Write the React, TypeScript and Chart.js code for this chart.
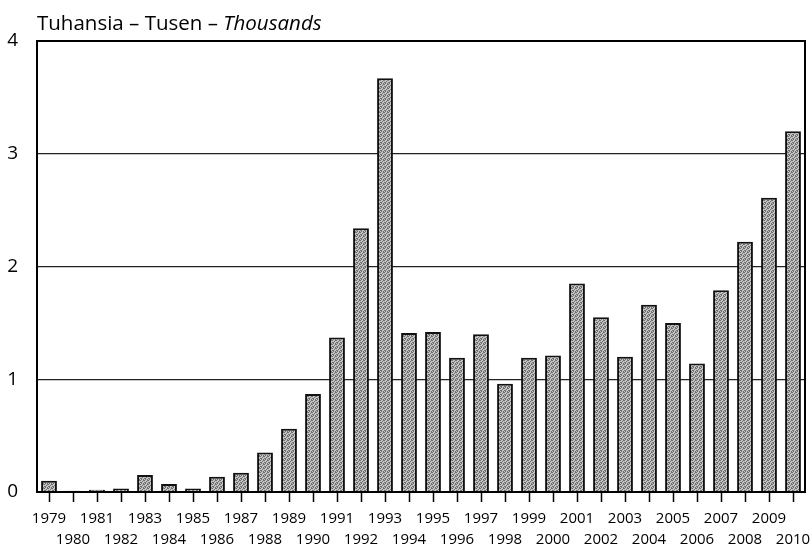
import React, { useEffect, useRef } from "react";
import { Chart, registerables } from "chart.js";

Chart.register(...registerables);

const years: string[] = [
  "1979", "1980", "1981", "1982", "1983", "1984", "1985", "1986", "1987", "1988",
  "1989", "1990", "1991", "1992", "1993", "1994", "1995", "1996", "1997", "1998",
  "1999", "2000", "2001", "2002", "2003", "2004", "2005", "2006", "2007", "2008",
  "2009", "2010",
];

const thousands: number[] = [
  0.1, 0.01, 0.02, 0.03, 0.15, 0.07, 0.03, 0.135, 0.17, 0.35,
  0.56, 0.87, 1.37, 2.34, 3.67, 1.41, 1.42, 1.19, 1.4, 0.96,
  1.19, 1.21, 1.85, 1.55, 1.2, 1.66, 1.5, 1.14, 1.79, 2.22,
  2.61, 3.2,
];

const yTicks: number[] = [0, 1, 2, 3, 4];

const titleNormal = "Tuhansia – Tusen – ";
const titleItalic = "Thousands";

const FONT = "'Open Sans', 'DejaVu Sans', sans-serif";

function makePattern(): CanvasPattern | string {
  const c = document.createElement("canvas");
  c.width = 4;
  c.height = 4;
  const g = c.getContext("2d");
  if (!g) return "#a8a8a8";
  g.fillStyle = "#c4c4c4";
  g.fillRect(0, 0, 4, 4);
  g.fillStyle = "#6e6e6e";
  const dots = [
    [0, 0], [2, 1], [1, 2], [3, 3], [3, 0], [1, 3], [0, 2],
  ];
  dots.forEach(([x, y]) => g.fillRect(x, y, 1, 1));
  const p = g.createPattern(c, "repeat");
  return p || "#a8a8a8";
}

const boxPlugin = {
  id: "boxAndTitle",
  afterDraw(chart: any) {
    const { ctx, chartArea } = chart;
    ctx.save();
    ctx.strokeStyle = "#000";
    ctx.lineWidth = 2;
    ctx.strokeRect(chartArea.left, chartArea.top, chartArea.right - chartArea.left, chartArea.bottom - chartArea.top);
    ctx.fillStyle = "#000";
    ctx.textBaseline = "alphabetic";
    ctx.textAlign = "left";
    ctx.font = `20.5px ${FONT}`;
    const x0 = 37;
    const yb = 30;
    ctx.fillText(titleNormal, x0, yb);
    const w = ctx.measureText(titleNormal).width;
    ctx.font = `italic 20.5px ${FONT}`;
    ctx.fillText(titleItalic, x0 + w, yb);
    ctx.restore();
  },
};

export default function App() {
  const ref = useRef<HTMLCanvasElement | null>(null);

  useEffect(() => {
    if (!ref.current) return;
    const pattern = makePattern();
    const chart = new Chart(ref.current, {
      type: "bar",
      data: {
        labels: years,
        datasets: [
          {
            data: thousands,
            backgroundColor: pattern as any,
            borderColor: "#111",
            borderWidth: 2,
            barPercentage: 0.66,
            categoryPercentage: 1,
          },
        ],
      },
      options: {
        animation: false,
        responsive: false,
        maintainAspectRatio: false,
        layout: { padding: { top: 41, right: 7, left: 0, bottom: 0 } },
        plugins: {
          legend: { display: false },
          tooltip: { enabled: false },
          title: { display: false },
        },
        scales: {
          x: {
            grid: {
              offset: false,
              drawOnChartArea: false,
              drawTicks: true,
              tickLength: 10,
              tickColor: "#000",
              tickWidth: 1.5,
            },
            border: { display: false },
            ticks: {
              color: "#000",
              autoSkip: false,
              maxRotation: 0,
              minRotation: 0,
              padding: 7,
              font: { family: FONT, size: 15, lineHeight: 1.35 },
              callback: (_v: any, i: number) =>
                i % 2 === 0 ? [years[i], ""] : ["", years[i]],
            },
            afterFit: (s: any) => {
              s.height = 53;
              s.paddingLeft = 0;
              s.paddingRight = 0;
            },
          },
          y: {
            min: 0,
            max: 4,
            afterBuildTicks: (s: any) => {
              s.ticks = yTicks.map((v) => ({ value: v }));
            },
            grid: {
              color: "#222",
              lineWidth: 1.2,
              drawTicks: false,
            },
            border: { display: false },
            ticks: {
              color: "#000",
              padding: 19,
              font: { family: FONT, size: 19 },
              callback: (v: any) => String(v),
            },
            afterFit: (s: any) => {
              s.width = 37;
              s.paddingTop = 0;
              s.paddingBottom = 0;
            },
          },
        },
      },
      plugins: [boxPlugin],
    });
    return () => chart.destroy();
  }, []);

  return (
    <div style={{ position: "absolute", left: 0, top: 0, width: 812, height: 545, background: "#fff" }}>
      <canvas ref={ref} width={812} height={545} style={{ display: "block", width: 812, height: 545 }} />
    </div>
  );
}
